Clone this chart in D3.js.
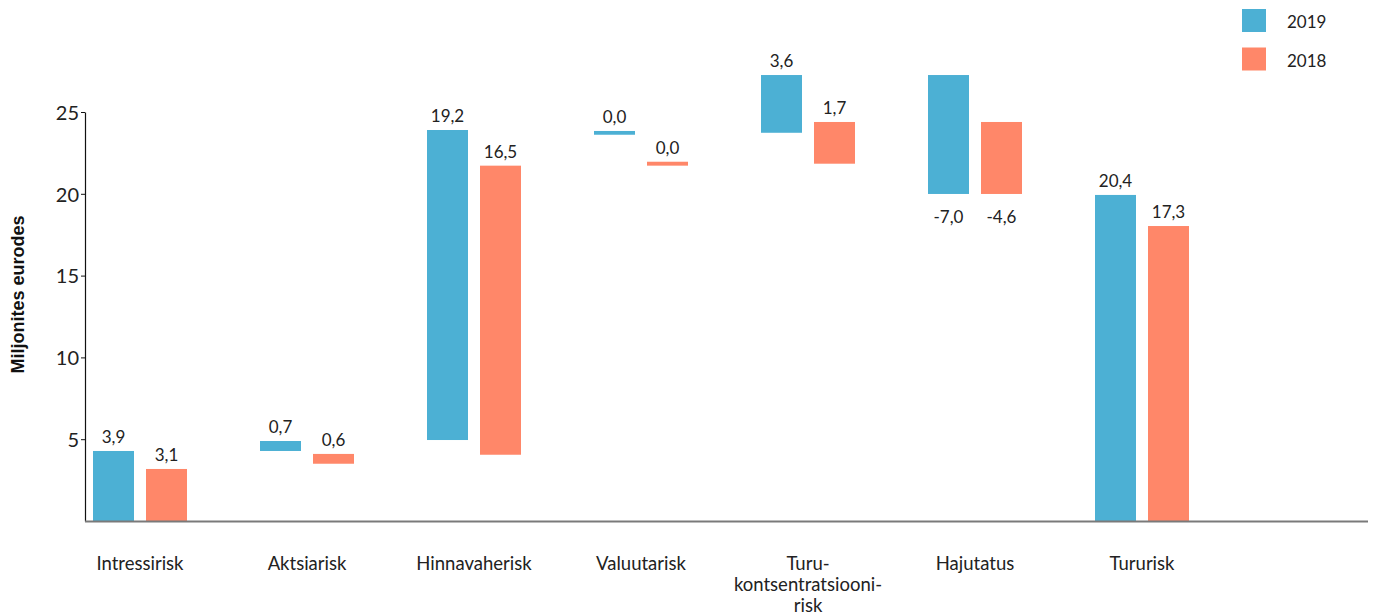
<!DOCTYPE html>
<html>
<head>
<meta charset="utf-8">
<script src="https://cdn.jsdelivr.net/npm/d3@7"></script>
<style>
  body { margin: 0; background: #fff; }
  svg { display: block; font-family: Lato, "Open Sans", sans-serif; }
  .tick text { font-size: 20px; fill: #222; }
  .value { font-size: 17px; fill: #222; }
  .cat { font-size: 18.5px; fill: #222; }
  .legend text { font-size: 17px; fill: #222; }
</style>
</head>
<body>
<svg width="1376" height="616"></svg>
<script>
// categories (multi-line labels split on "\n")
let categories = ["Intressirisk", "Aktsiarisk", "Hinnavaherisk", "Valuutarisk",
  "Turu-\nkontsentratsiooni-\nrisk", "Hajutatus", "Tururisk"];
let years = ["2019", "2018"];

// printed values
let values2019 = [3.9, 0.7, 19.2, 0.0, 3.6, -7.0, 20.4];
let values2018 = [3.1, 0.6, 16.5, 0.0, 1.7, -4.6, 17.3];

// bar extents as drawn in the picture (million EUR)
let barLow2019 = [0, 4.28, 4.95, 23.61, 23.73, 19.99, 0];
let barHigh2019 = [4.28, 4.89, 23.90, 23.84, 27.26, 27.26, 19.93];
let barLow2018 = [0, 3.50, 4.05, 21.72, 21.84, 19.99, 0];
let barHigh2018 = [3.18, 4.10, 21.72, 21.96, 24.39, 24.39, 18.03];

let yTicks = [5, 10, 15, 20, 25];
let yTitle = "Miljonites eurodes";

let colors = { "2019": "#4cb0d4", "2018": "#ff8769" };

function render() {
  let svg = d3.select("svg");
  let axisLeft = 85, axisRight = 1368, axisBottom = 521, axisTop = 112;

  let rows = [];
  categories.forEach((c, i) => {
    rows.push({ cat: c, year: "2019", val: values2019[i], lo: barLow2019[i], hi: barHigh2019[i] });
    rows.push({ cat: c, year: "2018", val: values2018[i], lo: barLow2018[i], hi: barHigh2018[i] });
  });

  let yScale = d3.scaleLinear()
    .domain([0, 25])
    .range([axisBottom, axisTop]);

  let step = 167;
  let xStart = 56.5;
  let x0 = d3.scaleBand()
    .domain(categories)
    .range([xStart, xStart + step * categories.length])
    .paddingInner(0)
    .paddingOuter(0);

  let x1 = d3.scaleBand()
    .domain(years)
    .range([(step - 94) / 2, (step + 94) / 2])
    .paddingInner(12 / 53);

  // y axis
  let yAxis = d3.axisLeft(yScale)
    .tickValues(yTicks)
    .tickSize(4)
    .tickSizeOuter(0);
  let gY = svg.append("g")
    .attr("transform", `translate(${axisLeft}, 0)`)
    .call(yAxis);
  gY.select(".domain").attr("stroke", "#111").attr("stroke-width", 1.2);
  gY.selectAll(".tick line").attr("stroke", "#111");
  gY.selectAll(".tick text").attr("x", -6).attr("dy", "0.36em").attr("font-family", "Lato, sans-serif");

  svg.append("text")
    .attr("transform", `translate(24, 294.5) rotate(-90)`)
    .attr("text-anchor", "middle")
    .attr("font-family", "'Liberation Sans', Arial, sans-serif")
    .attr("font-weight", "bold")
    .attr("font-size", 18)
    .attr("fill", "#111")
    .text(yTitle);

  // bars
  let gBars = svg.append("g");
  gBars.selectAll("rect")
    .data(rows)
    .enter()
    .append("rect")
    .attr("x", d => x0(d.cat) + x1(d.year))
    .attr("y", d => yScale(d.hi))
    .attr("width", x1.bandwidth())
    .attr("height", d => yScale(d.lo) - yScale(d.hi))
    .attr("fill", d => colors[d.year]);

  // value labels
  gBars.selectAll(".value")
    .data(rows)
    .enter()
    .append("text")
    .attr("class", "value")
    .attr("x", d => x0(d.cat) + x1(d.year) + x1.bandwidth() / 2)
    .attr("y", d => d.val < 0 ? yScale(d.lo) + 29 : yScale(d.hi) - 8)
    .attr("text-anchor", "middle")
    .text(d => d3.format(".1f")(d.val).replace(".", ",").replace("−", "-"));

  // x axis line
  svg.append("line")
    .attr("x1", axisLeft)
    .attr("x2", axisRight)
    .attr("y1", axisBottom + 0.5)
    .attr("y2", axisBottom + 0.5)
    .attr("stroke", "#7a7a7a")
    .attr("stroke-width", 2);

  // category labels
  let gCat = svg.append("g");
  categories.forEach(c => {
    let t = gCat.append("text")
      .attr("class", "cat")
      .attr("text-anchor", "middle")
      .attr("x", x0(c) + x0.bandwidth() / 2)
      .attr("y", 570);
    c.split("\n").forEach((line, i) => {
      t.append("tspan")
        .attr("x", x0(c) + x0.bandwidth() / 2)
        .attr("dy", i === 0 ? 0 : 21)
        .text(line);
    });
  });

  // legend
  let legend = svg.append("g").attr("class", "legend")
    .attr("transform", "translate(1242, 9)");
  let item = legend.selectAll("g")
    .data(years)
    .enter()
    .append("g")
    .attr("transform", (_, i) => `translate(0, ${i * 38.5})`);
  item.append("rect")
    .attr("width", 24)
    .attr("height", 23)
    .attr("fill", d => colors[d]);
  item.append("text")
    .attr("x", 45)
    .attr("y", 19)
    .text(d => d);
}

render();
</script>
</body>
</html>
